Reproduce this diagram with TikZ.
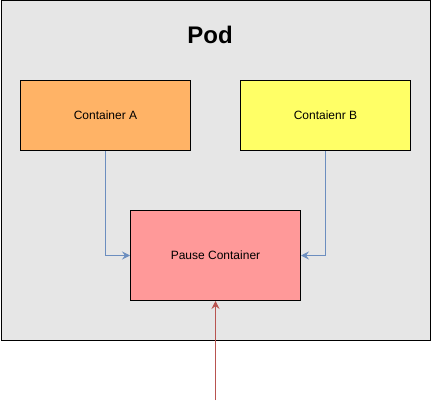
\documentclass[tikz,border=0pt]{standalone}
\usepackage{fontspec}
\setmainfont{Liberation Sans}
\usetikzlibrary{arrows.meta}
\definecolor{podgray}{HTML}{E6E6E6}
\definecolor{boxA}{HTML}{FFB366}
\definecolor{boxB}{HTML}{FFFF66}
\definecolor{pausefill}{HTML}{FF9999}
\definecolor{linkblue}{HTML}{6C8EBF}
\definecolor{linkred}{HTML}{B85450}

\begin{document}
\begin{tikzpicture} [x=1pt,y=-1pt,
  box/.style= {shape=rectangle,draw,line width=1pt,inner sep=0,minimum width=170pt,minimum height=70pt,anchor=north west,font=\fontsize{12}{14}\selectfont},
  link/.style= {draw=linkblue,line width=0.8pt,-{Stealth[length=8pt,width=8pt,inset=3pt]}},
  entrylink/.style= {link,draw=linkred}]
\useasboundingbox (0,0) rectangle (431,409);
\node[box,fill=podgray,minimum width=429pt,minimum height=339pt] (pod) at (0.5,0.5) {};
\node[font=\bfseries\fontsize{24}{28}\selectfont] (podlabel) at (210,35) {Pod};
\node[box,fill=boxA] (contA) at (20,80) {Container A};
\node[box,fill=boxB] (contB) at (240,80) {Contaienr B};
\node[box,fill=pausefill,minimum height=90pt] (pause) at (130,210) {Pause Container};
\coordinate (outside) at (215.5,400);
\draw[link] (contA.south) |- (pause.west);
\draw[link] (contB.south) |- (pause.east);
\draw[entrylink] (outside) -- (pause.south);
\end{tikzpicture}
\end{document}
